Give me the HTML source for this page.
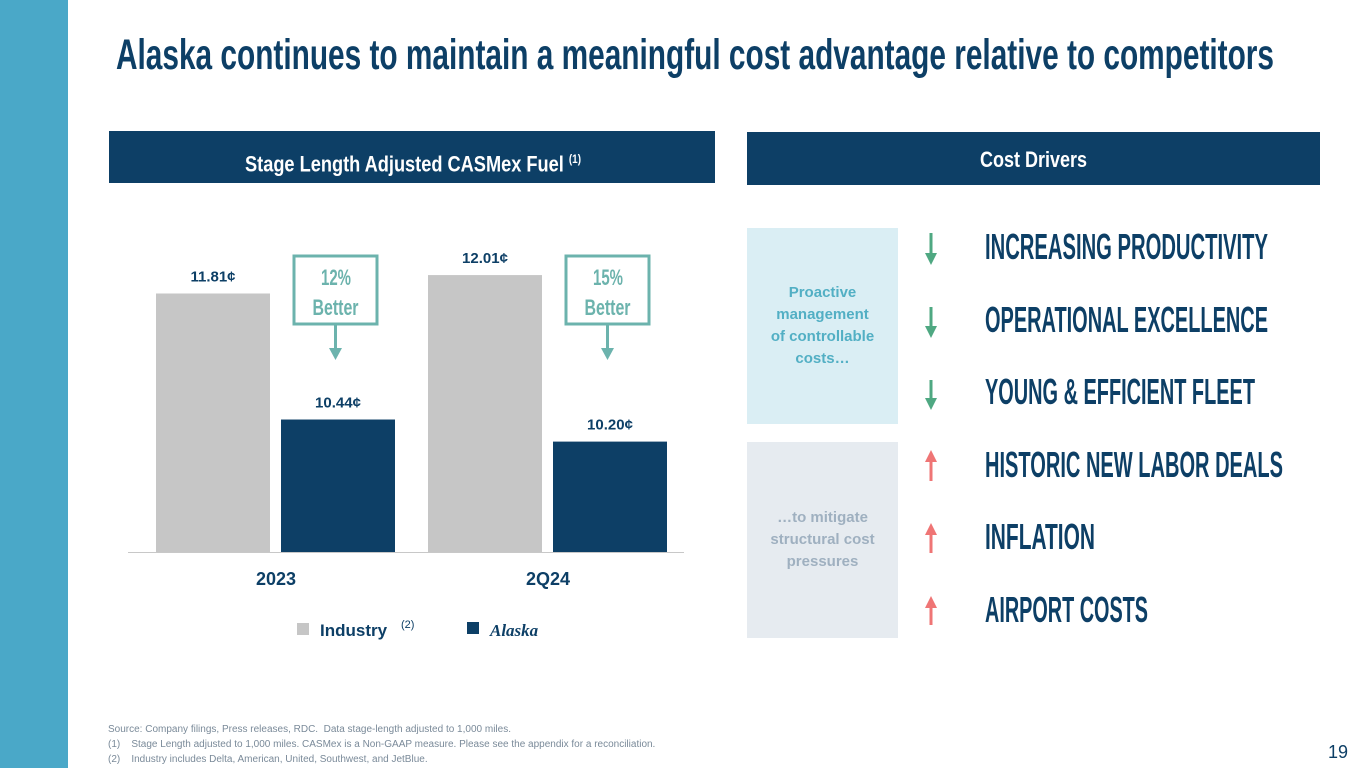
<!DOCTYPE html>
<html><head><meta charset="utf-8">
<style>
body{margin:0;width:1365px;height:768px;position:relative;background:#fff;overflow:hidden;font-family:"Liberation Sans",sans-serif}
.nar{font-family:"Liberation Sans",sans-serif;font-weight:bold;white-space:nowrap;display:inline-block;transform-origin:left top}
.abs{position:absolute}
.hdr{position:absolute;background:#0d3f66}
.drv{position:absolute;left:985px;font-size:36px;line-height:36px;color:#0d3f66}
.foot{position:absolute;left:108px;font-size:10px;color:#7a8a99}
</style></head><body>
<div class="abs" style="left:0;top:0;width:68px;height:768px;background:#4aa8c8"></div>
<div class="abs nar" data-fit="1158" style="left:116px;top:34px;font-size:43px;line-height:43px;color:#0d3f66">Alaska continues to maintain a meaningful cost advantage relative to competitors</div>
<div class="hdr" style="left:109px;top:131px;width:606px;height:52px"></div>
<div class="abs nar" data-fit="336" style="left:245px;top:148px;font-size:22px;line-height:22px;color:#fff">Stage Length Adjusted CASMex Fuel <sup style="font-size:12px">(1)</sup></div>
<div class="hdr" style="left:747px;top:132px;width:573px;height:53px"></div>
<div class="abs nar" data-fit="107" style="left:980px;top:149px;font-size:22px;line-height:22px;color:#fff">Cost Drivers</div>

<svg class="abs" style="left:0;top:0" width="720" height="660" id="chart"></svg>

<div class="abs" style="left:747px;top:228px;width:151px;height:196px;background:#daeef4"></div>
<div class="abs" style="left:747px;top:282px;width:151px;text-align:center;font-size:15px;font-weight:bold;color:#52afc4;line-height:22px">Proactive<br>management<br>of controllable<br>costs…</div>
<div class="abs" style="left:747px;top:442px;width:151px;height:196px;background:#e6ebf0"></div>
<div class="abs" style="left:747px;top:507px;width:151px;text-align:center;font-size:15px;font-weight:bold;color:#9fb0c0;line-height:22px">…to mitigate<br>structural cost<br>pressures</div>

<svg class="abs" style="left:920px;top:225px" width="30" height="400">
<g fill="#4fa882" stroke="#4fa882" stroke-width="3">
<line x1="11" y1="8" x2="11" y2="30"/><polygon points="5,28 17,28 11,40" stroke="none"/>
<line x1="11" y1="82" x2="11" y2="103"/><polygon points="5,101 17,101 11,113" stroke="none"/>
<line x1="11" y1="155" x2="11" y2="175"/><polygon points="5,173 17,173 11,185" stroke="none"/>
</g>
<g fill="#ef7575" stroke="#ef7575" stroke-width="3">
<line x1="11" y1="235" x2="11" y2="256"/><polygon points="5,237 17,237 11,225" stroke="none"/>
<line x1="11" y1="307" x2="11" y2="328"/><polygon points="5,310 17,310 11,298" stroke="none"/>
<line x1="11" y1="380" x2="11" y2="400"/><polygon points="5,383 17,383 11,371" stroke="none"/>
</g></svg>
<div class="drv nar" data-fit="283" style="top:229px">INCREASING PRODUCTIVITY</div>
<div class="drv nar" data-fit="283" style="top:302px">OPERATIONAL EXCELLENCE</div>
<div class="drv nar" data-fit="270" style="top:374px">YOUNG &amp; EFFICIENT FLEET</div>
<div class="drv nar" data-fit="298" style="top:447px">HISTORIC NEW LABOR DEALS</div>
<div class="drv nar" data-fit="110" style="top:519px">INFLATION</div>
<div class="drv nar" data-fit="163" style="top:592px">AIRPORT COSTS</div>

<div class="foot" style="top:724px">Source: Company filings, Press releases, RDC.&nbsp; Data stage-length adjusted to 1,000 miles.</div>
<div class="foot" style="top:739px">(1)&nbsp;&nbsp;&nbsp; Stage Length adjusted to 1,000 miles. CASMex is a Non-GAAP measure. Please see the appendix for a reconciliation.</div>
<div class="foot" style="top:754px">(2)&nbsp;&nbsp;&nbsp; Industry includes Delta, American, United, Southwest, and JetBlue.</div>
<div class="abs" style="left:1328px;top:742px;font-size:18px;color:#0d3f66">19</div>

<script>
const categories = ["2023", "2Q24"];
const industry = [11.81, 12.01];
const alaska = [10.44, 10.20];
const betterLabels = ["12%", "15%"];
document.querySelectorAll("[data-fit]").forEach(el=>{
  const w = el.getBoundingClientRect().width;
  el.style.transform = "scaleX(" + (parseFloat(el.getAttribute("data-fit"))/w) + ")";
});
const NS = "http://www.w3.org/2000/svg";
const svg = document.getElementById("chart");
const base = 552, vmin = 9, pxPer = 92;
const y = v => base - (v - vmin) * pxPer;
const groupX = i => 156 + i * 272;
function mk(tag, attrs, text){const e=document.createElementNS(NS,tag);for(const k in attrs)e.setAttribute(k,attrs[k]);if(text!==undefined)e.textContent=text;svg.appendChild(e);return e;}
const ax = mk("line",{x1:128,x2:684,y1:base+0.5,y2:base+0.5,stroke:"#c8c8c8","stroke-width":1});


categories.forEach((c,i)=>{
  const gx = groupX(i);
  const b1 = mk("rect",{x:gx,y:y(industry[i]),width:114,height:base-y(industry[i]),fill:"#c6c6c6"});
  
  
  const l1 = mk("text",{x:gx+57,y:y(industry[i])-12,"text-anchor":"middle","font-size":15,"font-weight":"bold",fill:"#0d3f66"}, industry[i].toFixed(2)+"¢");
  
  
  const b2 = mk("rect",{x:gx+125,y:y(alaska[i]),width:114,height:base-y(alaska[i]),fill:"#0d3f66"});
  
  
  const l2 = mk("text",{x:gx+182,y:y(alaska[i])-12,"text-anchor":"middle","font-size":15,"font-weight":"bold",fill:"#0d3f66"}, alaska[i].toFixed(2)+"¢");
  
  
  const cl = mk("text",{x:gx+120,y:585,"text-anchor":"middle","font-size":18,"font-weight":"bold",fill:"#0d3f66"}, c);
  
  
  const bx = gx+138;
  const box = mk("rect",{x:bx,y:256,width:83,height:68,fill:"#fff",stroke:"#6cb3ad","stroke-width":3});
  
  
  const t1 = mk("text",{x:bx+27,y:285,"font-size":22,"font-weight":"bold",fill:"#6cb3ad",textLength:30,lengthAdjust:"spacingAndGlyphs"}, betterLabels[i]);
  
  
  const t2 = mk("text",{x:bx+18.5,y:315,"font-size":22,"font-weight":"bold",fill:"#6cb3ad",textLength:46,lengthAdjust:"spacingAndGlyphs"}, "Better");
  
  
  const al = mk("line",{x1:bx+41.5,x2:bx+41.5,y1:325,y2:350,stroke:"#6cb3ad","stroke-width":3});
  
  
  mk("polygon",{points:`${bx+35},348 ${bx+48},348 ${bx+41.5},360`,fill:"#6cb3ad"});
});
const lg1 = mk("rect",{x:297,y:623,width:12,height:12,fill:"#c6c6c6"});


const lt1 = mk("text",{x:320,y:636,"font-size":17,"font-weight":"bold",fill:"#0d3f66"},"Industry");


mk("text",{x:401,y:628,"font-size":11,fill:"#0d3f66"},"(2)");
const lg2 = mk("rect",{x:467,y:622,width:12,height:12,fill:"#0d3f66"});


const lt2 = mk("text",{x:490,y:636,"font-size":17,"font-weight":"bold","font-style":"italic",fill:"#0d3f66","font-family":"Liberation Serif, serif"},"Alaska");


</script>
</body></html>
